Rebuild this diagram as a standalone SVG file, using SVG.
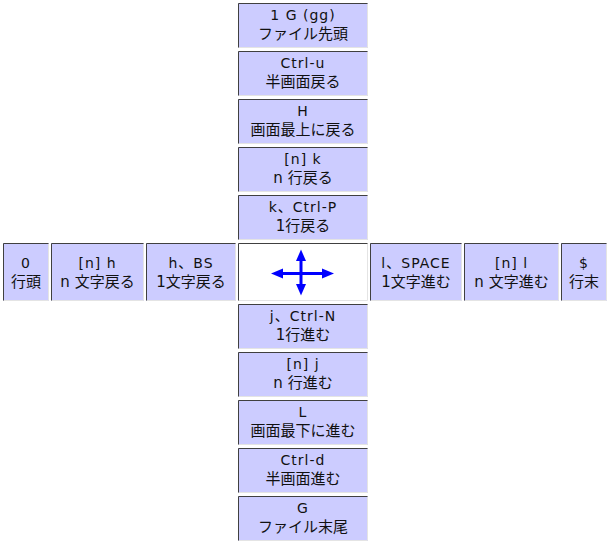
<svg xmlns="http://www.w3.org/2000/svg" width="609" height="543" viewBox="0 0 609 543">
<style>
.bg{fill:#ffffff}
.cell{fill:#ccccff}
.ctr{fill:#ffffff}
.dk{fill:none;stroke:#404040;stroke-width:1}
.lt{fill:none;stroke:#e4e4e4;stroke-width:1}
text{font-family:"DejaVu Sans","Noto Sans CJK JP",sans-serif;fill:#111111;text-anchor:middle}
.l1{font-size:14px;letter-spacing:1px}
.l2{font-size:15px}
.arr{stroke:#0000ff;stroke-width:3;fill:none}
.head{fill:#0000ff}
</style>
<rect class="bg" x="0" y="0" width="609" height="543"/>
<g id="connectors"></g>
<g id="n-1G">
<rect class="cell" x="238" y="3" width="130" height="45"/>
<path class="lt" d="M367.5,3.5V47.5H238.5"/><path class="dk" d="M238.5,47.5V3.5H367.5"/>
<text class="l1" x="303" y="20">1 G (gg)</text><text class="l2" x="303" y="39">ファイル先頭</text>
</g>
<g id="n-ctrlu">
<rect class="cell" x="238" y="51" width="130" height="45"/>
<path class="lt" d="M367.5,51.5V95.5H238.5"/><path class="dk" d="M238.5,95.5V51.5H367.5"/>
<text class="l1" x="303" y="68">Ctrl-u</text><text class="l2" x="303" y="87">半画面戻る</text>
</g>
<g id="n-H">
<rect class="cell" x="238" y="99" width="130" height="45"/>
<path class="lt" d="M367.5,99.5V143.5H238.5"/><path class="dk" d="M238.5,143.5V99.5H367.5"/>
<text class="l1" x="303" y="116">H</text><text class="l2" x="303" y="135">画面最上に戻る</text>
</g>
<g id="n-nk">
<rect class="cell" x="238" y="147" width="130" height="45"/>
<path class="lt" d="M367.5,147.5V191.5H238.5"/><path class="dk" d="M238.5,191.5V147.5H367.5"/>
<text class="l1" x="303" y="164">[n] k</text><text class="l2" x="303" y="183">n 行戻る</text>
</g>
<g id="n-k">
<rect class="cell" x="238" y="195" width="130" height="45"/>
<path class="lt" d="M367.5,195.5V239.5H238.5"/><path class="dk" d="M238.5,239.5V195.5H367.5"/>
<text class="l1" x="303" y="212">k、Ctrl-P</text><text class="l2" x="303" y="231">1行戻る</text>
</g>
<g id="n-0">
<rect class="cell" x="3" y="243" width="46" height="58"/>
<path class="lt" d="M48.5,243.5V300.5H3.5"/><path class="dk" d="M3.5,300.5V243.5H48.5"/>
<text class="l1" x="26" y="268">0</text><text class="l2" x="26" y="287">行頭</text>
</g>
<g id="n-nh">
<rect class="cell" x="51" y="243" width="93" height="58"/>
<path class="lt" d="M143.5,243.5V300.5H51.5"/><path class="dk" d="M51.5,300.5V243.5H143.5"/>
<text class="l1" x="97.5" y="268">[n] h</text><text class="l2" x="97.5" y="287">n 文字戻る</text>
</g>
<g id="n-h">
<rect class="cell" x="146" y="243" width="90" height="58"/>
<path class="lt" d="M235.5,243.5V300.5H146.5"/><path class="dk" d="M146.5,300.5V243.5H235.5"/>
<text class="l1" x="191" y="268">h、BS</text><text class="l2" x="191" y="287">1文字戻る</text>
</g>
<g id="n-center">
<rect class="ctr" x="238" y="243" width="130" height="58"/>
<path class="lt" d="M367.5,243.5V300.5H238.5"/><path class="dk" d="M238.5,300.5V243.5H367.5"/>
<line class="arr" x1="281" y1="273.5" x2="324" y2="273.5"/>
<line class="arr" x1="301" y1="259" x2="301" y2="285"/>
<polygon class="head" points="271,273.5 283,268.5 283,278.5"/>
<polygon class="head" points="334,273.5 322,268.5 322,278.5"/>
<polygon class="head" points="301,249.5 296,261 306,261"/>
<polygon class="head" points="301,295.5 296,284 306,284"/>
</g>
<g id="n-l">
<rect class="cell" x="370" y="243" width="92" height="58"/>
<path class="lt" d="M461.5,243.5V300.5H370.5"/><path class="dk" d="M370.5,300.5V243.5H461.5"/>
<text class="l1" x="416" y="268">l、SPACE</text><text class="l2" x="416" y="287">1文字進む</text>
</g>
<g id="n-nl">
<rect class="cell" x="464" y="243" width="95" height="58"/>
<path class="lt" d="M558.5,243.5V300.5H464.5"/><path class="dk" d="M464.5,300.5V243.5H558.5"/>
<text class="l1" x="511.5" y="268">[n] l</text><text class="l2" x="511.5" y="287">n 文字進む</text>
</g>
<g id="n-dollar">
<rect class="cell" x="561" y="243" width="46" height="58"/>
<path class="lt" d="M606.5,243.5V300.5H561.5"/><path class="dk" d="M561.5,300.5V243.5H606.5"/>
<text class="l1" x="584" y="268">$</text><text class="l2" x="584" y="287">行末</text>
</g>
<g id="n-j">
<rect class="cell" x="238" y="304" width="130" height="45"/>
<path class="lt" d="M367.5,304.5V348.5H238.5"/><path class="dk" d="M238.5,348.5V304.5H367.5"/>
<text class="l1" x="303" y="321">j、Ctrl-N</text><text class="l2" x="303" y="340">1行進む</text>
</g>
<g id="n-nj">
<rect class="cell" x="238" y="352" width="130" height="45"/>
<path class="lt" d="M367.5,352.5V396.5H238.5"/><path class="dk" d="M238.5,396.5V352.5H367.5"/>
<text class="l1" x="303" y="369">[n] j</text><text class="l2" x="303" y="388">n 行進む</text>
</g>
<g id="n-L">
<rect class="cell" x="238" y="400" width="130" height="45"/>
<path class="lt" d="M367.5,400.5V444.5H238.5"/><path class="dk" d="M238.5,444.5V400.5H367.5"/>
<text class="l1" x="303" y="417">L</text><text class="l2" x="303" y="436">画面最下に進む</text>
</g>
<g id="n-ctrld">
<rect class="cell" x="238" y="448" width="130" height="45"/>
<path class="lt" d="M367.5,448.5V492.5H238.5"/><path class="dk" d="M238.5,492.5V448.5H367.5"/>
<text class="l1" x="303" y="465">Ctrl-d</text><text class="l2" x="303" y="484">半画面進む</text>
</g>
<g id="n-G">
<rect class="cell" x="238" y="496" width="130" height="45"/>
<path class="lt" d="M367.5,496.5V540.5H238.5"/><path class="dk" d="M238.5,540.5V496.5H367.5"/>
<text class="l1" x="303" y="513">G</text><text class="l2" x="303" y="532">ファイル末尾</text>
</g>
</svg>
